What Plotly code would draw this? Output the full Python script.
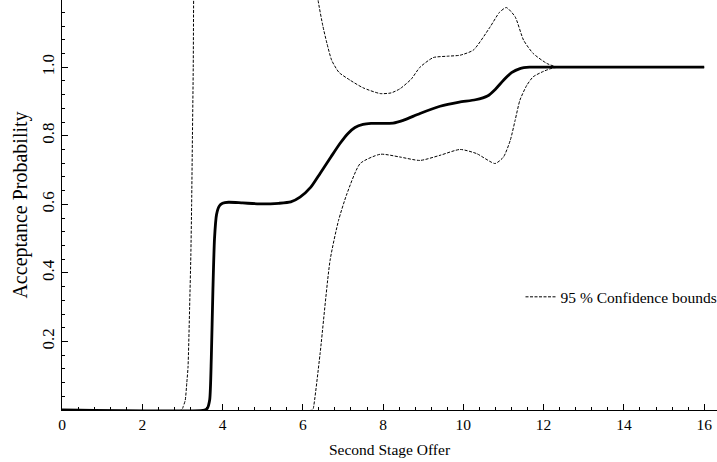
import plotly.graph_objects as go

# Main estimated acceptance probability curve
main_x = [0, 3.55, 3.62, 3.68, 3.72, 3.76, 3.80, 3.85, 3.92, 4.0, 4.15, 4.5, 5.0, 5.4, 5.7, 5.93,
          6.2, 6.43, 6.7, 6.93, 7.12, 7.3, 7.5, 7.7, 8.25, 8.5, 8.92, 9.42, 9.9, 10.3, 10.6,
          10.8, 11.0, 11.2, 11.41, 11.65, 12.0, 16.0]
main_y = [0, 0, 0.005, 0.03, 0.15, 0.35, 0.50, 0.57, 0.595, 0.603, 0.606, 0.604, 0.601, 0.603,
          0.607, 0.621, 0.65, 0.69, 0.738, 0.778, 0.806, 0.824, 0.833, 0.836, 0.837, 0.845, 0.865,
          0.886, 0.898, 0.905, 0.916, 0.936, 0.962, 0.984, 0.996, 1.0, 1.0, 1.0]

# Upper 95% confidence bound (leaves the top of the frame between ~3.3 and ~6.35)
upper_x = [0, 2.98, 3.02, 3.07, 3.11, 3.14, 3.18, 3.21, 3.23, 3.25, 3.27, 3.28, 3.30, None,
           6.33, 6.38, 6.5, 6.6, 6.72, 6.9, 7.18, 7.5, 7.93, 8.2, 8.42, 8.7, 8.92, 9.25, 9.6,
           9.92, 10.25, 10.67, 10.9, 11.07, 11.29, 11.5, 11.74, 12.08, 12.32, 12.6, 16.0]
upper_y = [0, 0, 0.01, 0.028, 0.08, 0.125, 0.30, 0.45, 0.60, 0.80, 1.0, 1.2, 1.4, None,
           1.26, 1.196, 1.12, 1.07, 1.02, 0.985, 0.962, 0.94, 0.923, 0.925, 0.937, 0.965, 1.0,
           1.028, 1.032, 1.035, 1.05, 1.118, 1.16, 1.174, 1.147, 1.079, 1.04, 1.011, 1.001, 1.0, 1.0]

# Lower 95% confidence bound
lower_x = [0, 6.24, 6.26, 6.43, 6.68, 6.89, 7.1, 7.43, 7.93, 8.42, 8.92, 9.42, 9.92, 10.33,
           10.79, 11.0, 11.17, 11.29, 11.41, 11.58, 11.74, 12.0, 12.24, 12.5, 16.0]
lower_y = [0, 0, 0.004, 0.164, 0.437, 0.553, 0.631, 0.719, 0.746, 0.738, 0.728, 0.743, 0.760,
           0.748, 0.719, 0.738, 0.787, 0.845, 0.904, 0.947, 0.972, 0.988, 0.998, 1.0, 1.0]

x_ticks = [0, 2, 4, 6, 8, 10, 12, 14, 16]
y_ticks = [0.2, 0.4, 0.6, 0.8, 1.0]
y_tick_text = ["0.2", "0.4", "0.6", "0.8", "1.0"]

FONT = "Liberation Serif"

fig = go.Figure()
fig.add_trace(go.Scatter(x=upper_x, y=upper_y, mode="lines", connectgaps=False,
                         line=dict(color="black", width=1, dash="3px,1.5px", shape="spline", smoothing=0.6),
                         name="95 % Confidence bounds", showlegend=True))
fig.add_trace(go.Scatter(x=lower_x, y=lower_y, mode="lines",
                         line=dict(color="black", width=1, dash="3px,1.5px", shape="spline", smoothing=0.6),
                         showlegend=False))
fig.add_trace(go.Scatter(x=main_x, y=main_y, mode="lines",
                         line=dict(color="black", width=2.8, shape="spline", smoothing=0.6),
                         showlegend=False))

fig.update_layout(
    width=717, height=462,
    margin=dict(l=62, r=0, t=0, b=52, autoexpand=False),
    paper_bgcolor="white", plot_bgcolor="white",
    font=dict(family=FONT, color="black", size=15),
    legend=dict(x=0.70, y=0.275, xanchor="left", yanchor="middle",
                bgcolor="rgba(0,0,0,0)", font=dict(family=FONT, size=15.5),
                itemwidth=30, borderwidth=0),
    xaxis=dict(range=[0, 16.32], tickmode="array", tickvals=x_ticks,
               ticks="inside", ticklen=6, tickwidth=1, tickcolor="black",
               showline=True, linecolor="black", linewidth=1.2, showgrid=False, zeroline=False,
               tickfont=dict(family=FONT, size=15.5), automargin=False,
               minor=dict(tick0=0, dtick=0.4, ticks="inside", ticklen=3, tickwidth=1, tickcolor="black"),
               title=dict(text="Second Stage Offer", font=dict(family=FONT, size=15.5), standoff=12)),
    yaxis=dict(range=[0, 1.196], tickmode="array", tickvals=y_ticks, ticktext=y_tick_text,
               tickangle=-90, automargin=False,
               ticks="inside", ticklen=6, tickwidth=1, tickcolor="black",
               showline=True, linecolor="black", linewidth=1.2, showgrid=False, zeroline=False,
               tickfont=dict(family=FONT, size=17),
               minor=dict(tick0=0, dtick=0.04, ticks="inside", ticklen=3, tickwidth=1, tickcolor="black"),
               title=dict(text="Acceptance Probability", font=dict(family=FONT, size=20), standoff=6)),
)

fig.write_html("out.html")
